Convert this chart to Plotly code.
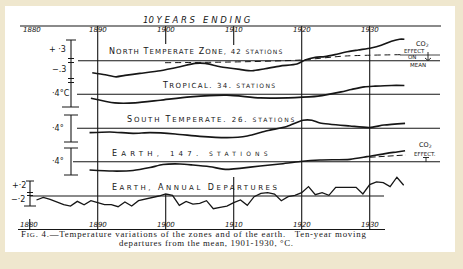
import plotly.graph_objects as go

W, H = 463, 269

# ---------------- data (°C departures) ----------------
nt_years = [1889.2, 1891.1, 1892.7, 1894.0, 1896.2, 1899.2, 1902.1, 1904.3, 1905.8, 1908.0, 1910.9,
            1912.7, 1914.6, 1916.8, 1919.3, 1920.5, 1922.0, 1923.4, 1924.9, 1926.5, 1928.3, 1930.2,
            1931.7, 1933.2, 1934.4, 1935.1]
nt_values = [-0.18, -0.21, -0.24, -0.22, -0.19, -0.15, -0.09, -0.04, -0.04, -0.09, -0.13,
             -0.15, -0.12, -0.08, -0.05, 0.01, 0.05, 0.06, 0.09, 0.13, 0.16, 0.19,
             0.23, 0.29, 0.32, 0.32]
nt_co2_years = [1899.9, 1909.5, 1919.8, 1926.4, 1934.5]
nt_co2_values = [-0.03, -0.02, 0.01, 0.07, 0.09]

tr_years = [1889.0, 1892.5, 1895.5, 1899.2, 1903.6, 1909.0, 1913.9, 1919.0, 1922.4, 1925.8,
            1927.3, 1929.2, 1930.8, 1933.2, 1935.1]
tr_values = [-0.06, -0.13, -0.13, -0.09, -0.04, -0.015, -0.055, -0.05, -0.03, 0.034,
             0.07, 0.11, 0.12, 0.13, 0.13]

st_years = [1888.8, 1891.8, 1895.2, 1897.7, 1901.4, 1905.0, 1909.0, 1912.0, 1914.9, 1917.8,
            1920.2, 1921.5, 1922.7, 1927.1, 1930.0, 1932.1, 1935.2]
st_values = [-0.066, -0.055, -0.075, -0.066, -0.085, -0.12, -0.14, -0.115, -0.036, 0.027,
             0.12, 0.12, 0.079, 0.034, 0.012, 0.049, 0.075]

ea_years = [1888.8, 1892.2, 1895.2, 1897.7, 1899.6, 1902.1, 1904.0, 1906.5, 1909.0, 1910.9,
            1913.9, 1916.8, 1919.8, 1922.7, 1927.1, 1929.6, 1932.5, 1934.0, 1935.2]
ea_values = [-0.124, -0.139, -0.131, -0.087, -0.042, -0.034, -0.049, -0.075, -0.115, -0.099,
             -0.064, -0.034, 0.003, 0.025, 0.036, 0.075, 0.125, 0.145, 0.163]
ea_co2_years = [1930.0, 1935.3]
ea_co2_values = [0.066, 0.10]

an_years = list(range(1881, 1936))
an_values = [-0.06, -0.02, -0.05, -0.09, -0.13, -0.15, -0.08, -0.13, -0.07, -0.10,
             -0.13, -0.13, -0.16, -0.09, -0.15, -0.07, -0.05, -0.02, 0.00, 0.03,
             0.01, -0.14, -0.08, -0.12, -0.11, -0.07, -0.19, -0.17, -0.15, -0.10,
             -0.06, -0.14, -0.01, 0.04, 0.05, 0.03, -0.07, -0.01, 0.01, 0.05,
             0.14, 0.02, 0.05, 0.01, 0.13, 0.13, 0.13, 0.13, 0.03, 0.17,
             0.21, 0.20, 0.14, 0.28, 0.16]

top_ticks = [1880, 1890, 1900, 1910, 1920, 1930]
tick_labels = ["1880", "1890", "1900", "1910", "1920", "1930"]

# ---------------- geometry ----------------
X0PX, PXYR = 29.7, 6.8        # pixel of 1880, pixels per year
PXDEG = 67.0                   # pixels per °C
xr = [1880 - X0PX / PXYR, 1880 + (W - X0PX) / PXYR]

def yx(year):
    return X0PX + (year - 1880) * PXYR

def px(x):
    return x / W

def py(y):
    return 1 - y / H

bases = {"y": 60.7, "y2": 94.2, "y3": 128.3, "y4": 161.7, "y5": 196.0}

INK = "#161616"
fig = go.Figure()

def curve(xs, ys, axis, width=1.7, dash="solid", shape="spline"):
    fig.add_trace(go.Scatter(x=xs, y=ys, yaxis=axis, mode="lines",
                             line=dict(color=INK, width=width, dash=dash, shape=shape,
                                       smoothing=0.7 if shape == "spline" else None),
                             hoverinfo="skip", showlegend=False))

curve(nt_years, nt_values, "y")
curve(nt_co2_years, nt_co2_values, "y", width=1.0, dash="6px,4px")
curve(tr_years, tr_values, "y2")
curve(st_years, st_values, "y3")
curve(ea_years, ea_values, "y4")
curve(ea_co2_years, ea_co2_values, "y4", width=1.0, dash="6px,3px")
curve(an_years, an_values, "y5", width=1.3, shape="linear")

layout_axes = {}
for k, b in bases.items():
    name = "yaxis" if k == "y" else "yaxis" + k[1:]
    ax = dict(range=[(b - H) / PXDEG, b / PXDEG], domain=[0, 1], visible=False,
              showgrid=False, zeroline=False, fixedrange=True)
    if k != "y":
        ax["overlaying"] = "y"
    layout_axes[name] = ax

shapes = []
def line(x0, y0, x1, y1, w=1.0, color=INK):
    shapes.append(dict(type="line", xref="paper", yref="paper",
                       x0=px(x0), y0=py(y0), x1=px(x1), y1=py(y1),
                       line=dict(color=color, width=w)))

# white page
shapes.append(dict(type="rect", xref="paper", yref="paper", x0=px(5), x1=px(455),
                   y0=py(252), y1=py(6), fillcolor="white", line=dict(width=0), layer="below"))

# top & bottom frame lines
line(20, 26, 441, 26, 1.2)
line(18, 229.5, 385, 229.5, 1.2)
# year lines
for yr, segs in [(1890, [(26, 229.5)]), (1900, [(26, 44), (194, 229.5)]),
                 (1910, [(26, 45), (177, 229.5)]), (1920, [(26, 229.5)]),
                 (1930, [(26, 229.5)]), (1880, [(219, 229.5)])]:
    for a, b in segs:
        shapes.append(dict(type="line", xref="x", yref="paper", x0=yr, x1=yr,
                           y0=py(a), y1=py(b), line=dict(color=INK, width=1.1)))
# mean lines
line(78, 60.7, 440, 60.7, 1.1)
line(77, 94.2, 440, 94.2, 1.1)
line(77, 128.3, 440, 128.3, 1.1)
line(73, 161.7, 440, 161.7, 1.1)
line(30, 196.0, 384, 196.0, 1.1)

# scale bars
line(71, 40, 71, 107, 1.1)
for yy, a, b in [(40, 66, 76), (58.5, 68, 74), (62.5, 68, 74), (78.5, 68, 74), (82.5, 68, 74), (107, 62, 79)]:
    line(a, yy, b, yy, 1.0)
line(71, 115, 71, 142, 1.1)
line(64, 115, 78, 115, 1.0); line(64, 142, 78, 142, 1.0)
line(71, 148, 71, 175, 1.1)
line(64, 148, 78, 148, 1.0); line(64, 175, 78, 175, 1.0)
line(30, 181, 30, 206, 1.1)
for yy, a, b in [(181, 26, 34), (192.5, 27, 33), (195.5, 27, 33), (206, 24, 36)]:
    line(a, yy, b, yy, 1.0)

# CO2 arrows
line(428, 52, 428, 60, 0.9); line(425, 58, 428, 60.5, 0.9); line(431, 58, 428, 60.5, 0.9)
line(400, 55, 440, 55, 0.8)
line(426, 157.5, 426, 162, 0.9); line(423, 157.5, 429, 157.5, 0.9)

annotations = []
def txt(x, y, s, size=8, anchor="left", family="DejaVu Sans", italic=False, spacing=None):
    if italic:
        s = "<i>" + s + "</i>"
    if spacing is not None:
        s = "<span style='letter-spacing:%spx'>%s</span>" % (spacing, s)
    annotations.append(dict(x=px(x), y=py(y), xref="paper", yref="paper", text=s,
                            showarrow=False, xanchor=anchor, yanchor="middle",
                            font=dict(family=family, size=size, color=INK)))

def smallcaps(s, big=8.5, small=7):
    out = []
    for word in s.split(" "):
        if word and word[0].isalpha():
            out.append(word[0] + "<span style='font-size:%spx'>%s</span>" % (small, word[1:].upper()))
        else:
            out.append("<span style='font-size:%spx'>%s</span>" % (small, word.upper()))
    return " ".join(out)

ST = " <span style='font-size:6px'>STATIONS</span>"
txt(197, 20.5, "10 Y E A R S &nbsp; E N D I N G", size=8.5, anchor="center", italic=True)
for yr, lab in zip(top_ticks, tick_labels):
    txt(yx(yr) + (2 if yr == 1880 else 0), 30.5, lab, size=7, anchor="center", italic=True)
    txt(yx(yr) + (-1 if yr == 1880 else 0), 225, lab, size=7, anchor="center", italic=True)

txt(107, 52, smallcaps("North Temperate Zone, 42") + ST, spacing=1.1)
txt(160, 85.5, smallcaps("Tropical. 34.") + ST, spacing=1.4)
txt(125, 119, smallcaps("South Temperate. 26.") + ST, spacing=1.8)
txt(110, 153, smallcaps("Earth, 147.") + ST, spacing=4.2)
txt(110, 187, smallcaps("Earth, Annual Departures"), spacing=2.5)

txt(68, 49.5, "+ ·3", size=8, anchor="right")
txt(68, 70, "−.3", size=8, anchor="right")
txt(72, 93.5, "·4°C", size=8, anchor="right")
txt(66, 128, "·4°", size=8, anchor="right")
txt(66, 161.5, "·4°", size=8, anchor="right")
txt(28, 185, "+·2", size=8, anchor="right")
txt(27, 199, "−·2", size=8, anchor="right")

txt(422, 44, "CO<sub>2</sub>", size=6.5, anchor="center")
txt(414, 50.5, "EFFECT", size=5.5, anchor="center")
txt(412, 57, "ON", size=5.5, anchor="center")
txt(418, 65.5, "MEAN", size=5.5, anchor="center")
txt(425, 145, "CO<sub>2</sub>", size=6.5, anchor="center")
txt(425, 153.5, "EFFECT.", size=5.5, anchor="center")

txt(19, 234.3, "F<span style='font-size:7px'>IG</span>. 4.—Temperature variations of the zones and of the earth.&nbsp;&nbsp; Ten-year moving",
    size=8.8, family="Liberation Serif", spacing=0.78)
txt(117, 242.5, "departures from the mean, 1901-1930, °C.", size=8.8, family="Liberation Serif", spacing=0.65)

fig.update_layout(
    width=W, height=H, autosize=False,
    margin=dict(l=0, r=0, t=0, b=0, pad=0),
    paper_bgcolor="#EFE7CE", plot_bgcolor="rgba(0,0,0,0)",
    xaxis=dict(range=xr, visible=False, showgrid=False, zeroline=False, fixedrange=True),
    shapes=shapes, annotations=annotations, showlegend=False,
    **layout_axes,
)
fig.write_html("out.html", config={"displayModeBar": False})
